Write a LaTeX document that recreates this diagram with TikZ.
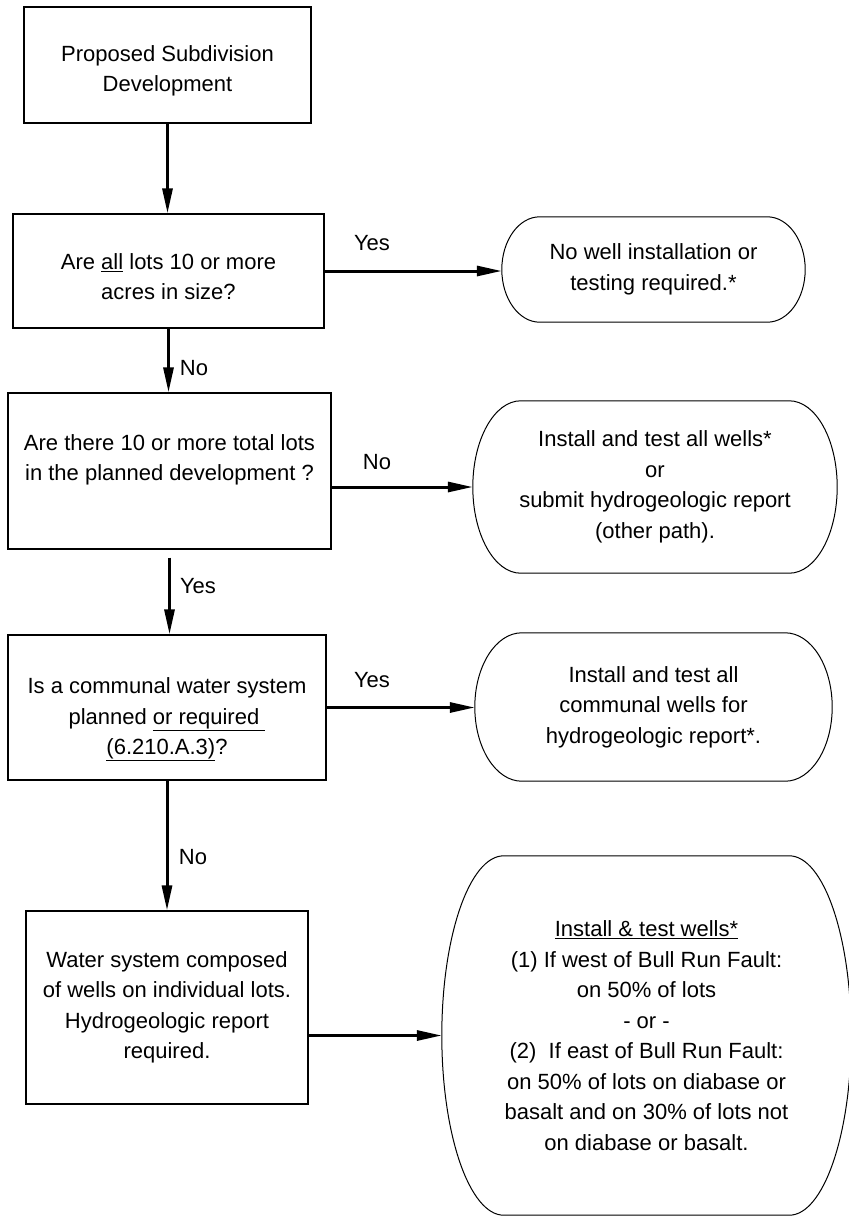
\documentclass[tikz,border=0pt]{standalone}
\usepackage{fontspec}
\setmainfont{Liberation Sans}
\usetikzlibrary{arrows.meta, calc}

% outline with half-ellipse ends round a node: #1 node, #2 depth of the ends (pt)
\newcommand{\termcap}[2]{%
  \draw[line width=1pt] let \p1=(#1.north east), \p2=(#1.south west),
      \n1={(\y1-\y2)/2} in
    (\x2+#2pt,\y1) -- (\x1-#2pt,\y1)
    arc[start angle=90, end angle=-90, x radius=#2pt, y radius={\n1*1pt}]
    -- (\x2+#2pt,\y2)
    arc[start angle=270, end angle=90, x radius=#2pt, y radius={\n1*1pt}] -- cycle;}

\begin{document}
\begin{tikzpicture}[x=1pt, y=-1pt,
        every node/.style={font=\fontsize{22}{30.5}\selectfont},
        procbox/.style={draw, line width=1.2pt, align=center, inner sep=0pt},
        termnode/.style={align=center, inner sep=0pt},
        flowarr/.style={-{Triangle[length=25pt, width=10pt]}, line width=3pt},
        lbl/.style={inner sep=0pt}
    ]
    \useasboundingbox (0,0) rectangle (849,1216);

    % === Decision column (left) ===
    \node[procbox, minimum width=287pt, minimum height=116pt] (start) at (167.5,65)
        {\rule{0pt}{28pt}Proposed Subdivision\\Development};
    \node[procbox, minimum width=311pt, minimum height=114pt] (big) at (168.5,271)
        {\rule{0pt}{27pt}Are \underline{all} lots 10 or more\\acres in size?};
    \node[procbox, minimum width=323pt, minimum height=156pt] (many) at (169.5,471)
        {Are there 10 or more total lots\\in the planned development ?\rule[-27pt]{0pt}{0pt}};
    \node[procbox, minimum width=318pt, minimum height=145pt] (comm) at (167,707.5)
        {\rule{0pt}{40pt}Is a communal water system\\planned \underline{or required\ }\\\underline{(6.210.A.3)}?};
    \node[procbox, minimum width=282pt, minimum height=193pt] (indiv) at (167,1007.5)
        {Water system composed\\of wells on individual lots.\\Hydrogeologic report\\required.};

    % === Outcomes (right) ===
    \node[termnode, minimum width=303pt, minimum height=105pt] (nowell) at (653.5,269.5)
        {No well installation or\\testing required.*};
    \node[termnode, minimum width=364pt, minimum height=172pt] (allwell) at (655,487)
        {Install and test all wells*\\or\\submit hydrogeologic report\\(other path).};
    \node[termnode, minimum width=357pt, minimum height=148pt] (commwell) at (653.5,707)
        {Install and test all\\communal wells for\\hydrogeologic report*.};
    \node[termnode, minimum width=409pt, minimum height=359pt] (pctwell) at (646.5,1035.5)
        {\underline{Install \& test wells*}\\(1) If west of Bull Run Fault:\\on 50\% of lots\\- or -\\(2)\ \ If east of Bull Run Fault:\\on 50\% of lots on diabase or\\basalt and on 30\% of lots not\\on diabase or basalt.};

    \termcap{nowell}{38}
    \termcap{allwell}{48}
    \termcap{commwell}{47}
    \termcap{pctwell}{62}

    % === Connectors ===
    \draw[flowarr] (start.south) -- (start.south |- big.north);
    \draw[flowarr] (big.south) -- (big.south |- many.north);
    \draw[flowarr, shorten <=8pt] (many.south) -- (many.south |- comm.north);
    \draw[flowarr] (comm.south) -- (comm.south |- indiv.north);

    \draw[flowarr] (big.east) -- (big.east -| nowell.west);
    \draw[flowarr] (many.east |- allwell.west) -- (allwell.west);
    \draw[flowarr] (comm.east) -- (comm.east -| commwell.west);
    \draw[flowarr] (indiv.east |- pctwell.west) -- (pctwell.west);

    % === Branch labels ===
    \node[lbl] (yes1) at (372,243) {Yes};
    \node[lbl] (no1) at (194,368) {No};
    \node[lbl] (no2) at (377,462) {No};
    \node[lbl] (yes2) at (198,586) {Yes};
    \node[lbl] (yes3) at (372,680) {Yes};
    \node[lbl] (no3) at (193,857) {No};

\end{tikzpicture}
\end{document}
